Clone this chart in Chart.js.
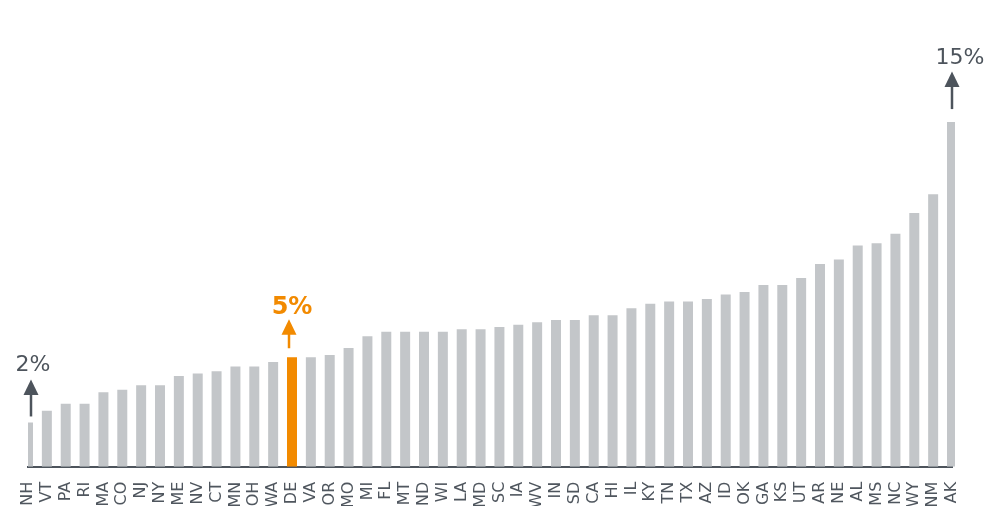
<!DOCTYPE html>
<html>
<head>
<meta charset="utf-8">
<script src="https://cdn.jsdelivr.net/npm/chart.js@4/dist/chart.umd.min.js"></script>
<style>
  html, body { margin: 0; padding: 0; background: #fff; }
  #grafica { display: block; }
</style>
</head>
<body>
<canvas id="grafica" width="1003" height="506"></canvas>
<script>
const estados = ["NH", "VT", "PA", "RI", "MA", "CO", "NJ", "NY", "ME", "NV",
    "CT", "MN", "OH", "WA", "DE", "VA", "OR", "MO", "MI", "FL",
    "MT", "ND", "WI", "LA", "MD", "SC", "IA", "WV", "IN", "SD",
    "CA", "HI", "IL", "KY", "TN", "TX", "AZ", "ID", "OK", "GA",
    "KS", "UT", "AR", "NE", "AL", "MS", "NC", "WY", "NM", "AK"];

const valores = [1.9, 2.4, 2.7, 2.7, 3.2, 3.3, 3.5, 3.5, 3.9, 4.0,
    4.1, 4.3, 4.3, 4.5, 4.7, 4.7, 4.8, 5.1, 5.6, 5.8,
    5.8, 5.8, 5.8, 5.9, 5.9, 6.0, 6.1, 6.2, 6.3, 6.3,
    6.5, 6.5, 6.8, 7.0, 7.1, 7.1, 7.2, 7.4, 7.5, 7.8,
    7.8, 8.1, 8.7, 8.9, 9.5, 9.6, 10.0, 10.9, 11.7, 14.8];

const destacado = "DE";

const etiquetas = [
    { estado: "NH", texto: "2%" },
    { estado: "DE", texto: "5%" },
    { estado: "AK", texto: "15%" },
];

const gris = "#c3c6c9";
const naranja = "#f28a00";
const pizarra = "#4d545c";

// separación, largo de flecha, hueco al texto, desplazamientos
const geometria = {
    NH: { hueco: 6, largo: 37, aire: 8, dx: 0, dt: 2 },
    DE: { hueco: 9, largo: 29, aire: 5, dx: -3, dt: 3 },
    AK: { hueco: 13, largo: 37.5, aire: 8, dx: 0, dt: 8 },
};

const flechas = {
    id: "flechas",
    afterDatasetsDraw(chart) {
        const { ctx, chartArea } = chart;
        const x = chart.scales.x;
        const y = chart.scales.y;

        etiquetas.forEach((et) => {
            const i = estados.indexOf(et.estado);
            const g = geometria[et.estado];
            const esDestacado = et.estado === destacado;
            const color = esDestacado ? naranja : pizarra;
            let px = x.getPixelForValue(i);
            px = Math.max(px, chartArea.left + 3) + g.dx;
            const tope = y.getPixelForValue(valores[i]);

            const fin = tope - g.hueco;
            const punta = fin - g.largo;

            ctx.save();
            ctx.strokeStyle = color;
            ctx.fillStyle = color;
            ctx.lineWidth = 2.5;
            ctx.beginPath();
            ctx.moveTo(px, fin);
            ctx.lineTo(px, punta + 12);
            ctx.stroke();
            ctx.beginPath();
            ctx.moveTo(px, punta);
            ctx.lineTo(px - 7.5, punta + 15.5);
            ctx.lineTo(px + 7.5, punta + 15.5);
            ctx.closePath();
            ctx.fill();

            ctx.font = esDestacado ? "bold 24px 'DejaVu Sans'" : "22px 'DejaVu Sans'";
            ctx.textAlign = "center";
            ctx.textBaseline = "alphabetic";
            ctx.fillText(et.texto, px + g.dt, punta - g.aire);
            ctx.restore();
        });
    },
};

const ctx = document.getElementById("grafica");
const grafica = new Chart(ctx, {
    type: "bar",
    data: {
        labels: estados,
        datasets: [
            {
                data: valores,
                backgroundColor: estados.map((e) => (e === destacado ? naranja : gris)),
                barPercentage: 0.53,
                categoryPercentage: 1,
                clip: { left: 0, right: 3, top: false, bottom: 0 },
            },
        ],
    },
    options: {
        responsive: false,
        animation: false,
        devicePixelRatio: 1,
        layout: {
            padding: { left: 28, right: 51, top: 1, bottom: 0 },
        },
        plugins: {
            legend: { display: false },
            tooltip: { enabled: false },
        },
        scales: {
            x: {
                offset: false,
                grid: { display: false, drawTicks: false },
                border: { display: true, color: pizarra, width: 2 },
                ticks: {
                    autoSkip: false,
                    minRotation: 90,
                    maxRotation: 90,
                    padding: 15,
                    color: "#4f565e",
                    font: { family: "'DejaVu Sans'", size: 16 },
                },
                afterFit: (escala) => {
                    escala.height = 39.3;
                },
            },
            y: {
                display: false,
                min: 0,
                max: 20,
            },
        },
    },
    plugins: [flechas],
});
</script>
</body>
</html>
